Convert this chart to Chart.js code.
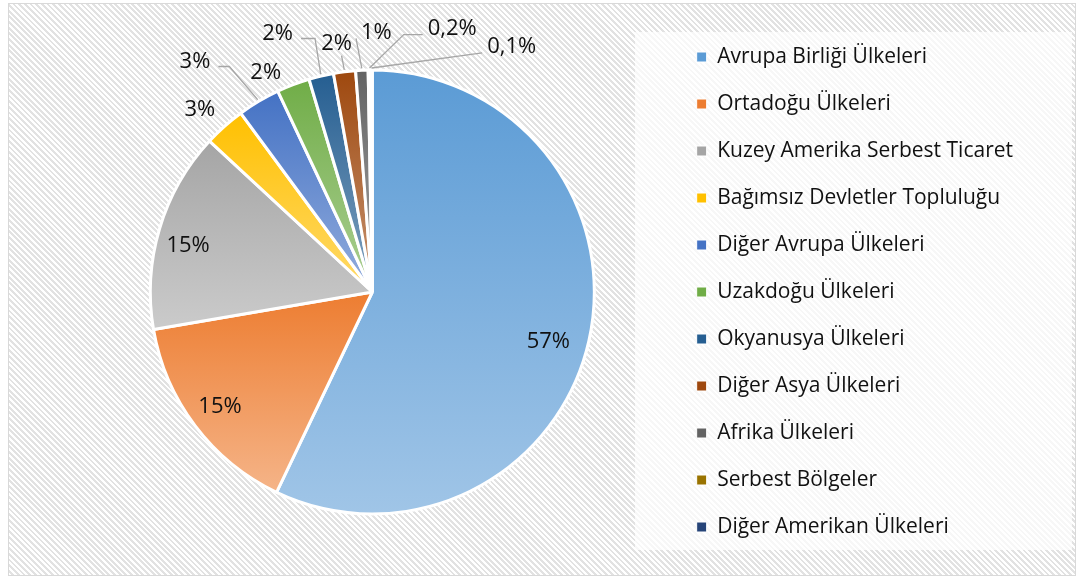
<!DOCTYPE html>
<html>
<head>
<meta charset="utf-8">
<script src="https://cdn.jsdelivr.net/npm/chart.js@4.4.1/dist/chart.umd.min.js"></script>
<style>
  html, body { margin: 0; padding: 0; background: #fff; }
  #wrap { position: relative; width: 1080px; height: 579px; overflow: hidden; }
  #frame {
    position: absolute; left: 8px; top: 3px; width: 1066px; height: 571px;
    border: 1px solid #d9d9d9;
    background: repeating-linear-gradient(45deg, #ffffff 0px, #ffffff 2px, #e2e2e2 2px, #e2e2e2 4px);
  }
  #chart { position: absolute; left: 0; top: 0; }
</style>
</head>
<body>
<div id="wrap">
  <div id="frame"></div>
  <canvas id="chart" width="1080" height="579"></canvas>
</div>
<script>
  // regions (clockwise from 12 o'clock)
  const REGIONS = [
    "Avrupa Birliği Ülkeleri",
    "Ortadoğu Ülkeleri",
    "Kuzey Amerika Serbest Ticaret",
    "Bağımsız Devletler Topluluğu",
    "Diğer Avrupa Ülkeleri",
    "Uzakdoğu Ülkeleri",
    "Okyanusya Ülkeleri",
    "Diğer Asya Ülkeleri",
    "Afrika Ülkeleri",
    "Serbest Bölgeler",
    "Diğer Amerikan Ülkeleri"
  ];
  // share in percent
  const SHARES = [57.1, 15.2, 14.6, 3.0, 3.1, 2.4, 1.8, 1.6, 0.9, 0.2, 0.1];
  const COLORS = ["#5B9BD5", "#ED7D31", "#A5A5A5", "#FFC000", "#4472C4", "#70AD47",
                  "#255E91", "#9E480E", "#636363", "#997300", "#264478"];

  // where each percent label sits: dist = x radius, shift = degrees from slice middle
  const LABEL_POS = [
    { dist: 0.824, shift: 3 },
    { dist: 0.86, shift: 0 },
    { dist: 0.855, shift: -2.6 },
    { dist: 1.13, shift: -1.7 },
    { dist: 1.31, shift: -6.8, leader: "right", run: 11 },
    { dist: 1.10, shift: -5 },
    { dist: 1.24, shift: -6.8, leader: "right", run: 14 },
    { dist: 1.13, shift: -1, leader: "below" },
    { dist: 1.17, shift: 3.6, leader: "left", run: 0 },
    { dist: 1.24, shift: 17.6, leader: "left", run: 19 },
    { dist: 1.27, shift: 29.8, leader: "left", run: 0 }
  ];

  const FONT = "'Open Sans', 'Noto Sans', sans-serif";

  function lighten(hex, amt) {
    const n = parseInt(hex.slice(1), 16);
    const r = (n >> 16) & 255, g = (n >> 8) & 255, b = n & 255;
    const m = (c) => Math.round(c + (255 - c) * amt);
    return `rgb(${m(r)},${m(g)},${m(b)})`;
  }

  function fmtShare(v) {
    if (v < 0.5) return v.toFixed(1).replace(".", ",") + "%";
    return Math.round(v) + "%";
  }

  // vertical gradient over each slice's own bounding box
  const gradientPlugin = {
    id: "sliceGradient",
    beforeDatasetsDraw(chart) {
      const c = chart.ctx;
      chart.getDatasetMeta(0).data.forEach((arc, i) => {
        const r = arc.outerRadius, s = arc.startAngle, e = arc.endAngle;
        const ys = [arc.y, arc.y + Math.sin(s) * r, arc.y + Math.sin(e) * r];
        [-Math.PI / 2, Math.PI / 2, 3 * Math.PI / 2].forEach((a) => {
          if (a >= s && a <= e) ys.push(arc.y + Math.sin(a) * r);
        });
        const top = Math.min(...ys), bottom = Math.max(...ys);
        const g = c.createLinearGradient(0, top, 0, bottom);
        g.addColorStop(0, COLORS[i]);
        g.addColorStop(1, lighten(COLORS[i], 0.42));
        arc.options = Object.assign({}, arc.options, { backgroundColor: g });
      });
    }
  };

  // white-ish panel behind the legend
  const legendPanel = {
    id: "legendPanel",
    beforeDraw(chart) {
      const c = chart.ctx;
      c.save();
      c.fillStyle = "rgba(255,255,255,0.72)";
      c.fillRect(635, 32, 437, 518);
      c.restore();
    }
  };

  const labelPlugin = {
    id: "shareLabels",
    afterDatasetsDraw(chart) {
      const c = chart.ctx;
      c.save();
      c.font = "22px " + FONT;
      c.textAlign = "center";
      c.textBaseline = "middle";
      chart.getDatasetMeta(0).data.forEach((arc, i) => {
        const p = LABEL_POS[i];
        const mid = (arc.startAngle + arc.endAngle) / 2;
        const a = mid + p.shift * Math.PI / 180;
        const x = arc.x + Math.cos(a) * arc.outerRadius * p.dist;
        const y = arc.y + Math.sin(a) * arc.outerRadius * p.dist;
        const txt = fmtShare(SHARES[i]);
        if (p.leader) {
          const w = c.measureText(txt).width;
          const ex = arc.x + Math.cos(mid) * (arc.outerRadius + 2);
          const ey = arc.y + Math.sin(mid) * (arc.outerRadius + 2);
          c.beginPath();
          c.strokeStyle = "#a6a6a6";
          c.lineWidth = 1.3;
          if (p.leader === "right") {
            const sx = x + w / 2 + 8, sy = y + 5;
            c.moveTo(sx, sy); c.lineTo(sx + p.run, sy);
          } else if (p.leader === "left") {
            const sx = x - w / 2 - 5, sy = y + 6;
            c.moveTo(sx, sy); c.lineTo(sx - p.run, sy);
          } else {
            c.moveTo(x + 5, y + 12);
          }
          c.lineTo(ex, ey);
          c.stroke();
        }
        c.fillStyle = "#111";
        c.fillText(txt, x, y);
      });
      c.restore();
    }
  };

  new Chart(document.getElementById("chart"), {
    type: "pie",
    data: {
      labels: REGIONS,
      datasets: [{
        data: SHARES,
        backgroundColor: COLORS,
        borderColor: "#ffffff",
        borderWidth: 3,
        radius: 222
      }]
    },
    options: {
      responsive: false,
      animation: false,
      events: [],
      layout: { padding: { top: 8, bottom: 3, left: 74, right: 57 } },
      plugins: {
        tooltip: { enabled: false },
        legend: {
          position: "right",
          align: "center",
          labels: {
            font: { family: FONT, size: 21 },
            color: "#111",
            boxWidth: 10,
            boxHeight: 10,
            padding: 26,
            generateLabels(chart) {
              const items = Chart.overrides.pie.plugins.legend.labels.generateLabels(chart);
              items.forEach((it) => { it.lineWidth = 1; });
              return items;
            }
          }
        }
      }
    },
    plugins: [legendPanel, gradientPlugin, labelPlugin]
  });
</script>
</body>
</html>
